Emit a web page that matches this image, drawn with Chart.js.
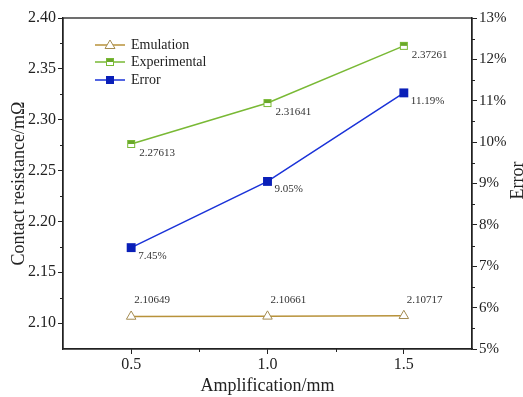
<!DOCTYPE html>
<html>
<head>
<meta charset="utf-8">
<script src="https://cdn.jsdelivr.net/npm/chart.js@4"></script>
<style>
  html, body { margin: 0; padding: 0; background: #fff; }
  #wrap { width: 523px; height: 397px; }
</style>
</head>
<body>
<div id="wrap"><canvas id="c" width="523" height="397"></canvas></div>
<script>
// 数据
const amplification = [0.5, 1.0, 1.5];
const emulation = [2.10649, 2.10661, 2.10717];
const experimental = [2.27613, 2.31641, 2.37261];
const errorPct = [7.45, 9.05, 11.19];
const xTicks = [0.5, 1.0, 1.5];
const leftTicks = [2.10, 2.15, 2.20, 2.25, 2.30, 2.35, 2.40];
const rightTicks = [5, 6, 7, 8, 9, 10, 11, 12, 13];

const SERIF = "'Liberation Serif', 'Times New Roman', serif";
const C_EMU = '#b8923a';
const C_EXP = '#79b935';
const C_ERR = '#1a32d8';

// 半填充方块（Experimental）
function halfSquare() {
    const cv = document.createElement('canvas');
    cv.width = 10; cv.height = 10;
    const g = cv.getContext('2d');
    g.fillStyle = '#fff';
    g.fillRect(1, 1, 8, 8);
    g.fillStyle = '#6aa82a';
    g.fillRect(1, 1, 8, 4);
    g.strokeStyle = C_EXP;
    g.lineWidth = 1;
    g.strokeRect(1.5, 1.5, 7, 7);
    return cv;
}
const expMarker = halfSquare();

const pts = (ys) => amplification.map((x, i) => ({ x: x, y: ys[i] }));

// 边框 + 次刻度 + 右轴标题（自下而上）
const framePlugin = {
    id: 'frame',
    afterDraw(chart) {
        const { ctx, chartArea: a, scales } = chart;
        ctx.save();
        ctx.strokeStyle = '#222';
        ctx.lineWidth = 1.3;
        ctx.strokeRect(a.left, a.top, a.right - a.left, a.bottom - a.top);
        ctx.lineWidth = 1;
        ctx.beginPath();
        [0.75, 1.25].forEach(v => {
            const px = Math.round(scales.x.getPixelForValue(v)) + 0.5;
            ctx.moveTo(px, a.bottom); ctx.lineTo(px, a.bottom + 3);
        });
        for (let v = 2.125; v < 2.40; v += 0.05) {
            const py = Math.round(scales.y.getPixelForValue(v)) + 0.5;
            ctx.moveTo(a.left, py); ctx.lineTo(a.left - 3, py);
        }
        for (let v = 5.5; v < 13; v += 1) {
            const py = Math.round(scales.y1.getPixelForValue(v)) + 0.5;
            ctx.moveTo(a.right, py); ctx.lineTo(a.right + 3, py);
        }
        ctx.stroke();

        ctx.translate(518, (a.top + a.bottom) / 2 - 3);
        ctx.rotate(-Math.PI / 2);
        ctx.font = '18px ' + SERIF;
        ctx.fillStyle = '#222';
        ctx.textAlign = 'center';
        ctx.textBaseline = 'middle';
        ctx.fillText('Error', 0, 0);
        ctx.restore();
    }
};

// 数据标签
const labelPlugin = {
    id: 'valueLabels',
    afterDatasetsDraw(chart) {
        const ctx = chart.ctx;
        ctx.save();
        ctx.font = '11px ' + SERIF;
        ctx.fillStyle = '#333';
        ctx.textBaseline = 'middle';
        ctx.textAlign = 'left';
        chart.data.datasets.forEach((ds, di) => {
            const meta = chart.getDatasetMeta(di);
            meta.data.forEach((el, i) => {
                const v = ds.data[i].y;
                let txt, dx, dy;
                if (di === 0) { txt = v.toFixed(5); dx = 3; dy = -16; }
                else if (di === 1) { txt = v.toFixed(5); dx = 8; dy = 9; }
                else { txt = v.toFixed(2) + '%'; dx = 7; dy = 8; }
                ctx.fillText(txt, el.x + dx, el.y + dy);
            });
        });
        ctx.restore();
    }
};

// 图例（线 + 标记）
const legendPlugin = {
    id: 'lineLegend',
    afterDraw(chart) {
        const ctx = chart.ctx;
        const x0 = 95, x1 = 125, rows = [45, 62, 80];
        ctx.save();
        ctx.font = '14px ' + SERIF;
        ctx.textBaseline = 'middle';
        chart.data.datasets.forEach((ds, i) => {
            const y = rows[i];
            ctx.strokeStyle = ds.borderColor;
            ctx.lineWidth = 1.5;
            ctx.beginPath(); ctx.moveTo(x0, y); ctx.lineTo(x1, y); ctx.stroke();
            const cx = (x0 + x1) / 2;
            if (i === 0) {
                ctx.fillStyle = '#fff';
                ctx.strokeStyle = '#a48c52';
                ctx.lineWidth = 1;
                ctx.beginPath();
                ctx.moveTo(cx, y - 5); ctx.lineTo(cx + 5, y + 3.5); ctx.lineTo(cx - 5, y + 3.5); ctx.closePath();
                ctx.fill(); ctx.stroke();
            } else if (i === 1) {
                ctx.drawImage(expMarker, cx - 5, y - 5);
            } else {
                ctx.fillStyle = '#0a1fb8';
                ctx.fillRect(cx - 4, y - 4, 8, 8);
            }
            ctx.fillStyle = '#222';
            ctx.fillText(ds.label, x1 + 6, y);
        });
        ctx.restore();
    }
};

new Chart(document.getElementById('c'), {
    type: 'line',
    data: {
        datasets: [{
            label: 'Emulation',
            data: pts(emulation),
            yAxisID: 'y',
            borderColor: C_EMU,
            borderWidth: 1.5,
            pointStyle: 'triangle',
            pointRadius: 5.5,
            pointBackgroundColor: '#fff',
            pointBorderColor: '#a48c52',
            pointBorderWidth: 1
        }, {
            label: 'Experimental',
            data: pts(experimental),
            yAxisID: 'y',
            borderColor: C_EXP,
            borderWidth: 1.5,
            pointStyle: expMarker,
            pointRadius: 5
        }, {
            label: 'Error',
            data: pts(errorPct),
            yAxisID: 'y1',
            borderColor: C_ERR,
            borderWidth: 1.5,
            pointStyle: 'rect',
            pointRadius: 6.3,
            pointBackgroundColor: '#0a1fb8',
            pointBorderColor: '#0a1fb8',
            pointBorderWidth: 0
        }]
    },
    options: {
        responsive: false,
        animation: false,
        layout: { padding: { top: 18, left: 0, right: 0, bottom: 0 } },
        plugins: { legend: { display: false }, tooltip: { enabled: false } },
        scales: {
            x: {
                type: 'linear',
                min: 0.25,
                max: 1.75,
                afterBuildTicks: s => { s.ticks = xTicks.map(v => ({ value: v })); },
                afterFit: s => { s.height = 48; },
                grid: { drawOnChartArea: false, tickLength: 5, tickColor: '#222' },
                border: { color: '#222', width: 1.3 },
                ticks: {
                    color: '#222', padding: 1,
                    font: { family: SERIF, size: 16 },
                    callback: v => v.toFixed(1)
                },
                title: {
                    display: true, text: 'Amplification/mm', color: '#222',
                    font: { family: SERIF, size: 18 }, padding: { top: 2, bottom: 0 }
                }
            },
            y: {
                position: 'left',
                min: 2.0745,
                max: 2.40,
                afterBuildTicks: s => { s.ticks = leftTicks.map(v => ({ value: v })); },
                afterFit: s => { s.width = 63; },
                grid: { drawOnChartArea: false, tickLength: 5, tickColor: '#222' },
                border: { color: '#222', width: 1.3 },
                ticks: {
                    color: '#222', padding: 2,
                    font: { family: SERIF, size: 16 },
                    callback: v => v.toFixed(2)
                },
                title: {
                    display: true, text: 'Contact resistance/mΩ', color: '#222',
                    font: { family: SERIF, size: 18 }, padding: { top: 8, bottom: 0 }
                }
            },
            y1: {
                position: 'right',
                min: 5,
                max: 13,
                afterBuildTicks: s => { s.ticks = rightTicks.map(v => ({ value: v })); },
                afterFit: s => { s.width = 51; },
                grid: { drawOnChartArea: false, tickLength: 5, tickColor: '#222' },
                border: { color: '#222', width: 1.3 },
                ticks: {
                    color: '#222', padding: 2,
                    font: { family: SERIF, size: 15 },
                    callback: v => v + '%'
                },
                title: { display: false }
            }
        }
    },
    plugins: [framePlugin, labelPlugin, legendPlugin]
});
</script>
</body>
</html>
